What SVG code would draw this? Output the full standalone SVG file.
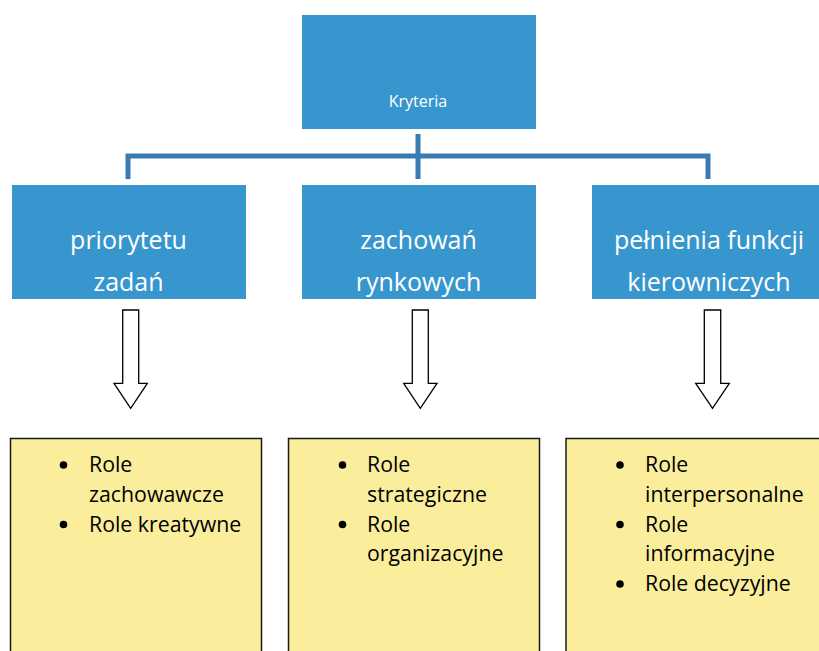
<svg xmlns="http://www.w3.org/2000/svg" width="819" height="651" viewBox="0 0 819 651">
<style>
.blue{fill:#3896CE;}
.wt{fill:#ffffff;font-family:"Open Sans","Noto Sans",sans-serif;text-anchor:middle;}
.big{font-size:25px;}
.small{font-size:16px;}
.yel{fill:#FAEE9C;stroke:#1a1a1a;stroke-width:1.5;}
.bt{fill:#000;font-family:"Open Sans","Noto Sans",sans-serif;font-size:21.3px;}
.arr{fill:#ffffff;stroke:#000;stroke-width:1.3;stroke-linejoin:miter;}
.con{fill:none;stroke:#3A7CB1;stroke-width:5;}
</style>
<rect width="819" height="651" fill="#ffffff"/>
<g id="connectors">
<path class="con" d="M128 179 V156 H708 V179 M418 134 V179"/>
<path class="arr" d="M122.7 310 H138.7 V383.3 H147.3 L130.7 408.3 L114 383.3 H122.7 Z"/>
<path class="arr" d="M412.3 310 H428.3 V383.3 H437 L420.3 408.3 L403.7 383.3 H412.3 Z"/>
<path class="arr" d="M704.3 310 H720.7 V383.3 H729.3 L712.5 408.3 L695.7 383.3 H704.3 Z"/>
</g>
<g id="kryteria">
<rect class="blue" x="302" y="15" width="234" height="114"/>
<text class="wt small" x="418" y="107">Kryteria</text>
</g>
<g id="priorytetu">
<rect class="blue" x="12" y="185" width="234" height="114"/>
<text class="wt big" x="128.5" y="249">priorytetu</text>
<text class="wt big" x="128.5" y="291">zadań</text>
</g>
<g id="zachowan">
<rect class="blue" x="302" y="185" width="234" height="114"/>
<text class="wt big" x="418.5" y="249">zachowań</text>
<text class="wt big" x="418.5" y="291">rynkowych</text>
</g>
<g id="pelnienia">
<rect class="blue" x="592" y="185" width="234" height="114"/>
<text class="wt big" x="709" y="249">pełnienia funkcji</text>
<text class="wt big" x="709" y="291">kierowniczych</text>
</g>
<g id="box-left">
<rect class="yel" x="10.5" y="438.5" width="251" height="230"/>
<circle cx="63.5" cy="465" r="3.8"/>
<circle cx="63.5" cy="524.5" r="3.8"/>
<text class="bt" x="89" y="472">Role</text>
<text class="bt" x="89" y="501.5">zachowawcze</text>
<text class="bt" x="89" y="531.5">Role kreatywne</text>
</g>
<g id="box-middle">
<rect class="yel" x="288.5" y="438.5" width="251" height="230"/>
<circle cx="342.5" cy="465" r="3.8"/>
<circle cx="342.5" cy="524.5" r="3.8"/>
<text class="bt" x="367" y="472">Role</text>
<text class="bt" x="367" y="501.5">strategiczne</text>
<text class="bt" x="367" y="531.5">Role</text>
<text class="bt" x="367" y="561">organizacyjne</text>
</g>
<g id="box-right">
<rect class="yel" x="566" y="438.5" width="260" height="230"/>
<circle cx="620" cy="465" r="3.8"/>
<circle cx="620" cy="524.5" r="3.8"/>
<circle cx="620" cy="584" r="3.8"/>
<text class="bt" x="645" y="472">Role</text>
<text class="bt" x="645" y="501.5">interpersonalne</text>
<text class="bt" x="645" y="531.5">Role</text>
<text class="bt" x="645" y="561">informacyjne</text>
<text class="bt" x="645" y="590.5">Role decyzyjne</text>
</g>
</svg>
